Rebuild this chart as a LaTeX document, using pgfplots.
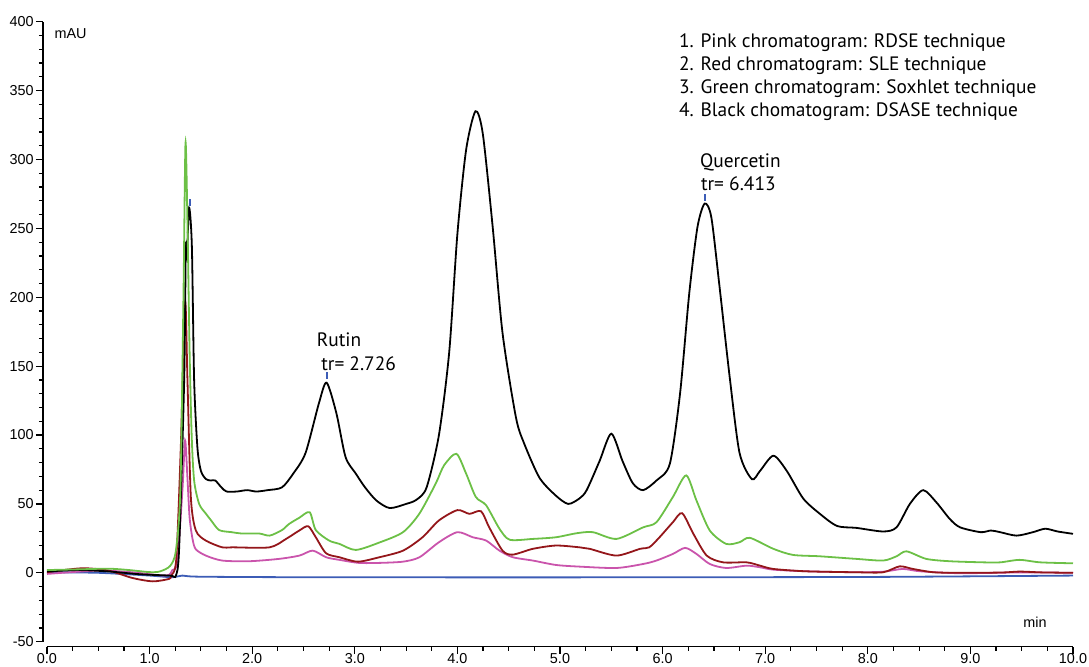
\documentclass[border=0pt]{standalone}
\usepackage{pgfplots}
\pgfplotsset{compat=1.18}
\usepackage{fontspec}
\setmainfont{Liberation Sans}
\newfontfamily\myriad{PT Sans}
\definecolor{cgreen}{RGB}{108,192,70}
\definecolor{cred}{RGB}{148,22,26}
\definecolor{cpink}{RGB}{202,84,172}
\definecolor{cblue}{RGB}{60,92,182}
\begin{document}
\begin{tikzpicture}
\begin{axis}[
  scale only axis, width=513pt, height=310pt,
  xmin=0, xmax=10, ymin=-50, ymax=400,
  axis lines=left, axis line style={-, line width=0.7pt},
  axis x line shift=2.5pt, axis y line shift=2pt,
  tick align=outside, major tick length=3.5pt, minor tick length=2pt,
  tick style={line width=0.6pt, black},
  xtick={0,1,...,10}, minor x tick num=3,
  ytick={-50,0,50,...,400}, minor y tick num=4,
  /pgf/number format/assume math mode=true,
  tick label style={font=\fontsize{7.2}{8}\selectfont, inner sep=1pt},
  xticklabel style={/pgf/number format/fixed, /pgf/number format/fixed zerofill, /pgf/number format/precision=1, inner sep=0.3pt, yshift=0.8pt},
  clip=false,
  every axis plot/.append style={line width=0.9pt, smooth, tension=0.45},
]
% blue baseline
\addplot[cblue] coordinates {(0,0.4) (0.5,0) (1.0,-2) (1.22,-3.2) (1.32,-2) (1.48,-2.8) (2.5,-3.2) (5,-3.3) (8,-3) (10,-2)};
% pink RDSE
\addplot[cpink] coordinates {(0,-0.8) (0.5,1.6) (0.83,0.4) (1.16,-2) (1.222,2) (1.27,8) (1.32,60) (1.346,96) (1.368,70) (1.39,40) (1.42,24) (1.451,17) (1.548,12.5) (1.707,8.9) (1.97,8.4) (2.26,10.1) (2.46,12.5) (2.59,16.1) (2.72,11.3) (2.85,9.4) (3.04,7.2) (3.24,7.2) (3.47,8.1) (3.63,11.3) (3.82,22.2) (4.0,29.5) (4.15,25.8) (4.28,23.4) (4.41,16.1) (4.54,11.3) (4.735,8.9) (4.96,5.7) (5.19,4.5) (5.55,3.5) (5.81,6.4) (5.94,8.9) (6.10,13.7) (6.22,18.1) (6.33,13.7) (6.46,6.4) (6.62,3.5) (6.82,5.2) (6.95,4) (7.08,2.3) (7.40,1.1) (7.89,0.4) (8.15,0.8) (8.34,2.8) (8.51,1.1) (8.90,-0.3) (9.5,0.3) (10,0)};
% red SLE
\addplot[cred] coordinates {(0,0.4) (0.34,3.3) (0.6,1.6) (0.83,-3.7) (1.03,-6.2) (1.19,-4.4) (1.21,-2) (1.26,10) (1.304,91) (1.346,196) (1.369,140) (1.402,55) (1.451,30.7) (1.548,23.4) (1.707,18.5) (1.81,18.5) (2.17,18.5) (2.33,24.6) (2.459,30.7) (2.546,33.8) (2.62,25.8) (2.72,14.2) (2.85,11.3) (3.03,8.1) (3.24,11.3) (3.47,16.1) (3.66,25.8) (3.82,38) (4.0,45.5) (4.117,42.8) (4.23,44.7) (4.31,33) (4.44,16.1) (4.54,13.2) (4.735,17.4) (4.96,19.8) (5.19,18.5) (5.29,17.4) (5.55,12.5) (5.78,17.4) (5.87,18.5) (5.97,25.8) (6.10,36.7) (6.19,43.3) (6.30,28.3) (6.43,12.5) (6.59,7.6) (6.82,7.6) (6.95,5.2) (7.08,2.8) (7.40,1.1) (7.89,0.4) (8.15,0.4) (8.31,4.7) (8.44,2.8) (8.64,0.4) (8.90,0) (9.3,0.2) (9.48,0.9) (9.7,0.3) (10.0,0)};
% black DSASE
\addplot[black] coordinates {(0,1) (0.3,2) (0.6,1) (0.9,-1) (1.2,-2) (1.256,-2) (1.288,18) (1.337,140) (1.353,237) (1.363,228) (1.385,265) (1.412,237) (1.434,140) (1.466,91) (1.50,74) (1.55,68) (1.597,67) (1.64,67) (1.70,62) (1.75,59) (1.85,59) (1.95,60) (2.04,59) (2.15,60) (2.29,62) (2.40,72) (2.52,87) (2.65,123) (2.725,138) (2.82,116) (2.91,84) (3.01,72) (3.10,62) (3.21,52.5) (3.34,47) (3.50,50) (3.60,53) (3.70,62) (3.82,100) (3.92,160) (4.00,246) (4.085,307) (4.176,335) (4.247,319) (4.344,251) (4.44,174) (4.57,113) (4.65,94) (4.80,69) (4.96,56) (5.08,50) (5.19,54) (5.26,60) (5.385,81) (5.50,101) (5.61,81) (5.71,65) (5.81,60) (5.94,67) (6.07,79) (6.17,130) (6.26,203) (6.34,251) (6.41,268) (6.475,258) (6.556,207) (6.654,142) (6.75,87) (6.87,68) (6.95,74) (7.08,85) (7.21,74) (7.37,54) (7.53,43) (7.70,34) (7.89,32.6) (8.15,30) (8.28,33) (8.41,50) (8.54,60) (8.67,51) (8.80,39) (8.90,33) (9.1,29.5) (9.2,30.7) (9.29,29.5) (9.45,27) (9.61,29.5) (9.73,32) (9.85,30) (10.0,28.3)};
% green Soxhlet
\addplot[cgreen] coordinates {(0,2) (0.3,2.5) (0.6,3) (0.8,2) (1.0,0.5) (1.1,1) (1.2,5) (1.256,16) (1.30,60) (1.33,200) (1.35,312) (1.37,250) (1.39,160) (1.41,100) (1.434,67) (1.483,50) (1.548,43) (1.60,38) (1.678,31) (1.8,29.5) (1.9,28.5) (2.07,28.5) (2.17,27) (2.29,31) (2.36,35.5) (2.46,40) (2.56,44) (2.62,31) (2.75,23.4) (2.85,21) (3.01,16.6) (3.24,22) (3.47,29.5) (3.63,43) (3.79,65) (3.87,78) (3.99,86.4) (4.085,72) (4.18,55) (4.28,49) (4.41,32) (4.51,24) (4.735,24.6) (4.96,25.8) (5.16,28.7) (5.32,29.5) (5.55,24.6) (5.81,33) (5.94,36.7) (6.10,55) (6.23,70.7) (6.33,52.5) (6.46,30.7) (6.62,21) (6.75,22.2) (6.85,25.4) (7.08,17.4) (7.27,13) (7.53,12) (7.89,10.1) (8.15,8.9) (8.28,12) (8.377,15.6) (8.57,10.1) (8.80,8.4) (9.125,7.6) (9.29,7.6) (9.48,9.4) (9.68,7.6) (10.0,6.9)};
% retention time markers
\draw[cblue, line width=1pt] (axis cs:1.395,266) -- (axis cs:1.395,271);
\draw[cblue, line width=1pt] (axis cs:2.726,141) -- (axis cs:2.726,146);
\draw[cblue, line width=1pt] (axis cs:6.413,270) -- (axis cs:6.413,275);
% texts
\node[anchor=base west, inner sep=0pt, font=\fontsize{7.2}{8}\selectfont] at (axis cs:0.07,388) {mAU};
\node[anchor=base, inner sep=0pt, font=\fontsize{7.2}{8}\selectfont] at (axis cs:9.63,-39.5) {min};
\begin{scope}[every node/.style={anchor=base west, inner sep=0pt, font=\myriad\fontsize{9.7}{11}\selectfont}]
\node at (axis cs:2.627,163.9) {Rutin};
\node at (axis cs:2.670,147) {tr= 2.726};
\node at (axis cs:6.361,294.5) {Quercetin};
\node at (axis cs:6.371,277.5) {tr= 6.413};
\node at (axis cs:6.156,381.2) {1. Pink chromatogram: RDSE technique};
\node at (axis cs:6.156,364.4) {2. Red chromatogram: SLE technique};
\node at (axis cs:6.156,347.7) {3. Green chromatogram: Soxhlet technique};
\node at (axis cs:6.156,331.0) {4. Black chomatogram: DSASE technique};
\end{scope}
\end{axis}
\pgfresetboundingbox
\path[use as bounding box] (-23.5pt,-12.15pt) rectangle (521pt,320.85pt);
\end{tikzpicture}
\end{document}
